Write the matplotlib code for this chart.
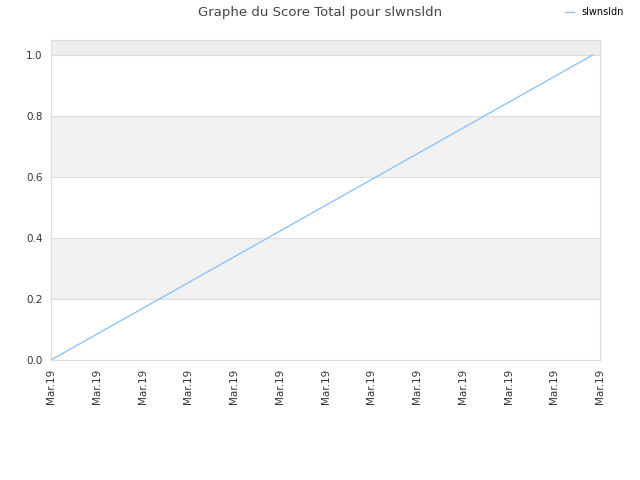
import matplotlib
matplotlib.use("Agg")
import matplotlib.pyplot as plt

# données
x_vals = [0, 11.83]
scores = [0.0, 1.0]
tick_pos = list(range(13))
tick_labels = ["Mar.19"] * 13
serie = "slwnsldn"

fig = plt.figure(figsize=(6.4, 4.8), dpi=100)
ax = fig.add_axes([0.0797, 0.25, 0.8578, 0.6667])

# bandes alternées
ax.axhspan(1.0, 1.05, color="#eeeeee", zorder=0, lw=0)
ax.axhspan(0.6, 0.8, color="#f2f2f2", zorder=0, lw=0)
ax.axhspan(0.2, 0.4, color="#f2f2f2", zorder=0, lw=0)
for yv in [0.2, 0.4, 0.6, 0.8, 1.0]:
    ax.axhline(yv, color="#dddddd", lw=0.8, zorder=1)

ax.plot(x_vals, scores, color="#90c4f5", lw=1, label=serie, zorder=3)

ax.set_xlim(0, 12)
ax.set_ylim(0, 1.05)
ax.set_yticks([0, 0.2, 0.4, 0.6, 0.8, 1.0])
ax.set_yticklabels(["0.0", "0.2", "0.4", "0.6", "0.8", "1.0"])
ax.set_xticks(tick_pos)
ax.set_xticklabels(tick_labels, rotation=90)
ax.tick_params(labelsize=7.5, colors="#333333", length=0, pad=6)
for s in ax.spines.values():
    s.set_color("#dddddd")

fig.suptitle("Graphe du Score Total pour slwnsldn", fontsize=9.5, color="#444444", x=0.5, y=0.987)
fig.legend(loc="upper right", bbox_to_anchor=(0.988, 1.003), frameon=False,
           fontsize=7, handlelength=1.0, handletextpad=0.7)

plt.savefig("out.png")
